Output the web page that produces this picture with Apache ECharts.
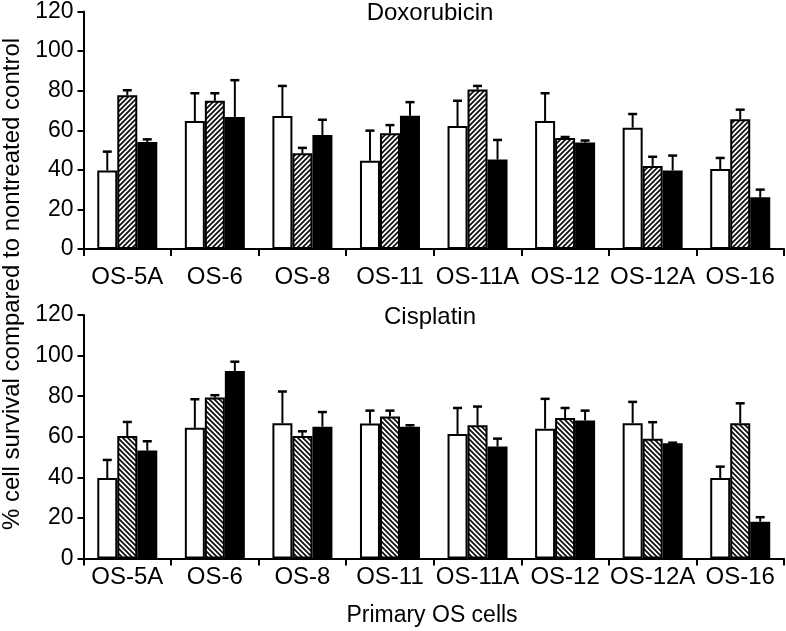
<!DOCTYPE html>
<html><head><meta charset="utf-8">
<script src="https://cdn.jsdelivr.net/npm/echarts@6/dist/echarts.min.js"></script>
<style>html,body{margin:0;padding:0;background:#fff}#c{width:786px;height:631px}</style>
</head><body><div id="c"></div>
<script>
// ---- data ----
const categories = ['OS-5A','OS-6','OS-8','OS-11','OS-11A','OS-12','OS-12A','OS-16'];
const yTickMin = 0, yTickMax = 120, yTickStep = 20;

// Doxorubicin panel
const doxoWhite      = [39.7, 64.7, 67.2, 44.6, 62.1, 64.7, 61.3, 40.4];
const doxoWhiteSD    = [ 9.5, 14.0, 15.2, 15.2, 12.8, 14.0,  6.9,  5.6];
const doxoHatched    = [77.7, 74.9, 48.4, 58.5, 80.6, 56.1, 42.0, 65.5];
const doxoHatchedSD  = [ 2.5,  3.8,  2.7,  4.1,  1.8,  0.5,  4.6,  4.9];
const doxoBlack      = [54.1, 66.7, 57.6, 67.3, 45.2, 53.8, 39.7, 26.1];
const doxoBlackSD    = [ 1.3, 18.6,  7.7,  6.9,  9.9,  1.0,  7.5,  3.9];

// Cisplatin panel
const cisWhite       = [39.7, 64.4, 66.7, 66.5, 61.4, 64.0, 66.7, 39.7];
const cisWhiteSD     = [ 8.9, 14.1, 15.6,  6.4, 12.8, 14.7, 10.5,  5.6];
const cisHatched     = [60.4, 79.3, 60.4, 70.0, 65.7, 69.3, 59.0, 66.7];
const cisHatchedSD   = [ 6.9,  1.2,  2.3,  2.9,  9.2,  4.9,  8.2,  9.8];
const cisBlack       = [53.2, 92.4, 65.0, 65.0, 55.2, 68.0, 56.8, 18.2];
const cisBlackSD     = [ 4.6,  4.6,  7.2,  0.7,  3.9,  4.9,  0.3,  2.2];

const panelTitles = ['Doxorubicin', 'Cisplatin'];
const xAxisTitle = 'Primary OS cells';
const yAxisTitle = '% cell survival compared to nontreated control';

// ---- styling ----
const FONT = "'Liberation Sans', Arial, Helvetica, sans-serif";
const BAR_W = 20;

function hatch(dir) {
  const s = 5;
  const c = document.createElement('canvas');
  c.width = s; c.height = s;
  const g = c.getContext('2d');
  g.fillStyle = '#fff'; g.fillRect(0, 0, s, s);
  g.strokeStyle = '#111'; g.lineWidth = 1.8;
  g.beginPath();
  if (dir > 0) {
    g.moveTo(-1, s + 1); g.lineTo(s + 1, -1);
    g.moveTo(-1, 1); g.lineTo(1, -1);
    g.moveTo(s - 1, s + 1); g.lineTo(s + 1, s - 1);
  } else {
    g.moveTo(-1, -1); g.lineTo(s + 1, s + 1);
    g.moveTo(-1, s - 1); g.lineTo(1, s + 1);
    g.moveTo(s - 1, -1); g.lineTo(s + 1, 1);
  }
  g.stroke();
  return c;
}

const panels = [
  { vals: [doxoWhite, doxoHatched, doxoBlack], sds: [doxoWhiteSD, doxoHatchedSD, doxoBlackSD], hatchDir: 1, labelMargin: 16 },
  { vals: [cisWhite, cisHatched, cisBlack], sds: [cisWhiteSD, cisHatchedSD, cisBlackSD], hatchDir: -1, labelMargin: 7 }
];

const grids = [
  { left: 83.5, right: 2, top: 10, height: 239 },
  { left: 83.5, right: 2, top: 315, height: 243.6 }
];

const xAxes = [], yAxes = [], series = [];
panels.forEach((p, i) => {
  xAxes.push({
    type: 'category', gridIndex: i, data: categories, boundaryGap: true,
    axisLine: { show: true, lineStyle: { color: '#000', width: 2 } },
    axisTick: { show: true, length: 7, lineStyle: { color: '#000', width: 2 } },
    axisLabel: { color: '#000', fontSize: 24, fontFamily: FONT, margin: p.labelMargin, interval: 0 },
    splitLine: { show: false }
  });
  yAxes.push({
    type: 'value', gridIndex: i, min: yTickMin, max: yTickMax, interval: yTickStep,
    axisLine: { show: true, lineStyle: { color: '#000', width: 2 } },
    axisTick: { show: true, length: 6, lineStyle: { color: '#000', width: 2 } },
    axisLabel: { color: '#000', fontSize: 23, fontFamily: FONT, margin: 10 },
    splitLine: { show: false }
  });
  const fills = ['#ffffff', { image: hatch(p.hatchDir), repeat: 'repeat' }, '#000000'];
  p.vals.forEach((v, k) => {
    series.push({
      type: 'bar', xAxisIndex: i, yAxisIndex: i, data: v,
      barWidth: BAR_W, barGap: '0%',
      itemStyle: { color: fills[k], borderColor: '#000', borderWidth: 2 },
      emphasis: { disabled: true }, z: 2
    });
  });
  p.vals.forEach((v, k) => {
    const off = (k - 1) * BAR_W;
    series.push({
      type: 'custom', xAxisIndex: i, yAxisIndex: i, z: 5,
      data: categories.map((c, j) => [j, v[j], v[j] + p.sds[k][j]]),
      encode: { x: 0, y: 2 },
      renderItem: function (params, api) {
        const b = api.coord([api.value(0), api.value(1)]);
        const t = api.coord([api.value(0), api.value(2)]);
        const x = b[0] + off;
        return {
          type: 'group', children: [
            { type: 'line', shape: { x1: x, y1: b[1], x2: x, y2: t[1] }, style: { stroke: '#000', lineWidth: 2 } },
            { type: 'line', shape: { x1: x - 4.5, y1: t[1], x2: x + 4.5, y2: t[1] }, style: { stroke: '#000', lineWidth: 2.5 } }
          ]
        };
      }
    });
  });
});

function txt(text, x, y, size, rot) {
  return {
    type: 'text', x: x, y: y, rotation: rot || 0, z: 10,
    style: { text: text, font: size + 'px ' + FONT, fill: '#000',
      align: 'center', verticalAlign: 'middle', textAlign: 'center', textVerticalAlign: 'middle' }
  };
}

const chart = echarts.init(document.getElementById('c'), null, { renderer: 'canvas' });
chart.setOption({
  animation: false,
  backgroundColor: '#fff',
  grid: grids,
  xAxis: xAxes,
  yAxis: yAxes,
  series: series,
  graphic: [
    txt(panelTitles[0], 430, 13, 24),
    txt(panelTitles[1], 430, 317, 24),
    txt(xAxisTitle, 432, 616, 23),
    txt(yAxisTitle, 12, 284, 24, Math.PI / 2)
  ]
});
</script>
</body></html>
